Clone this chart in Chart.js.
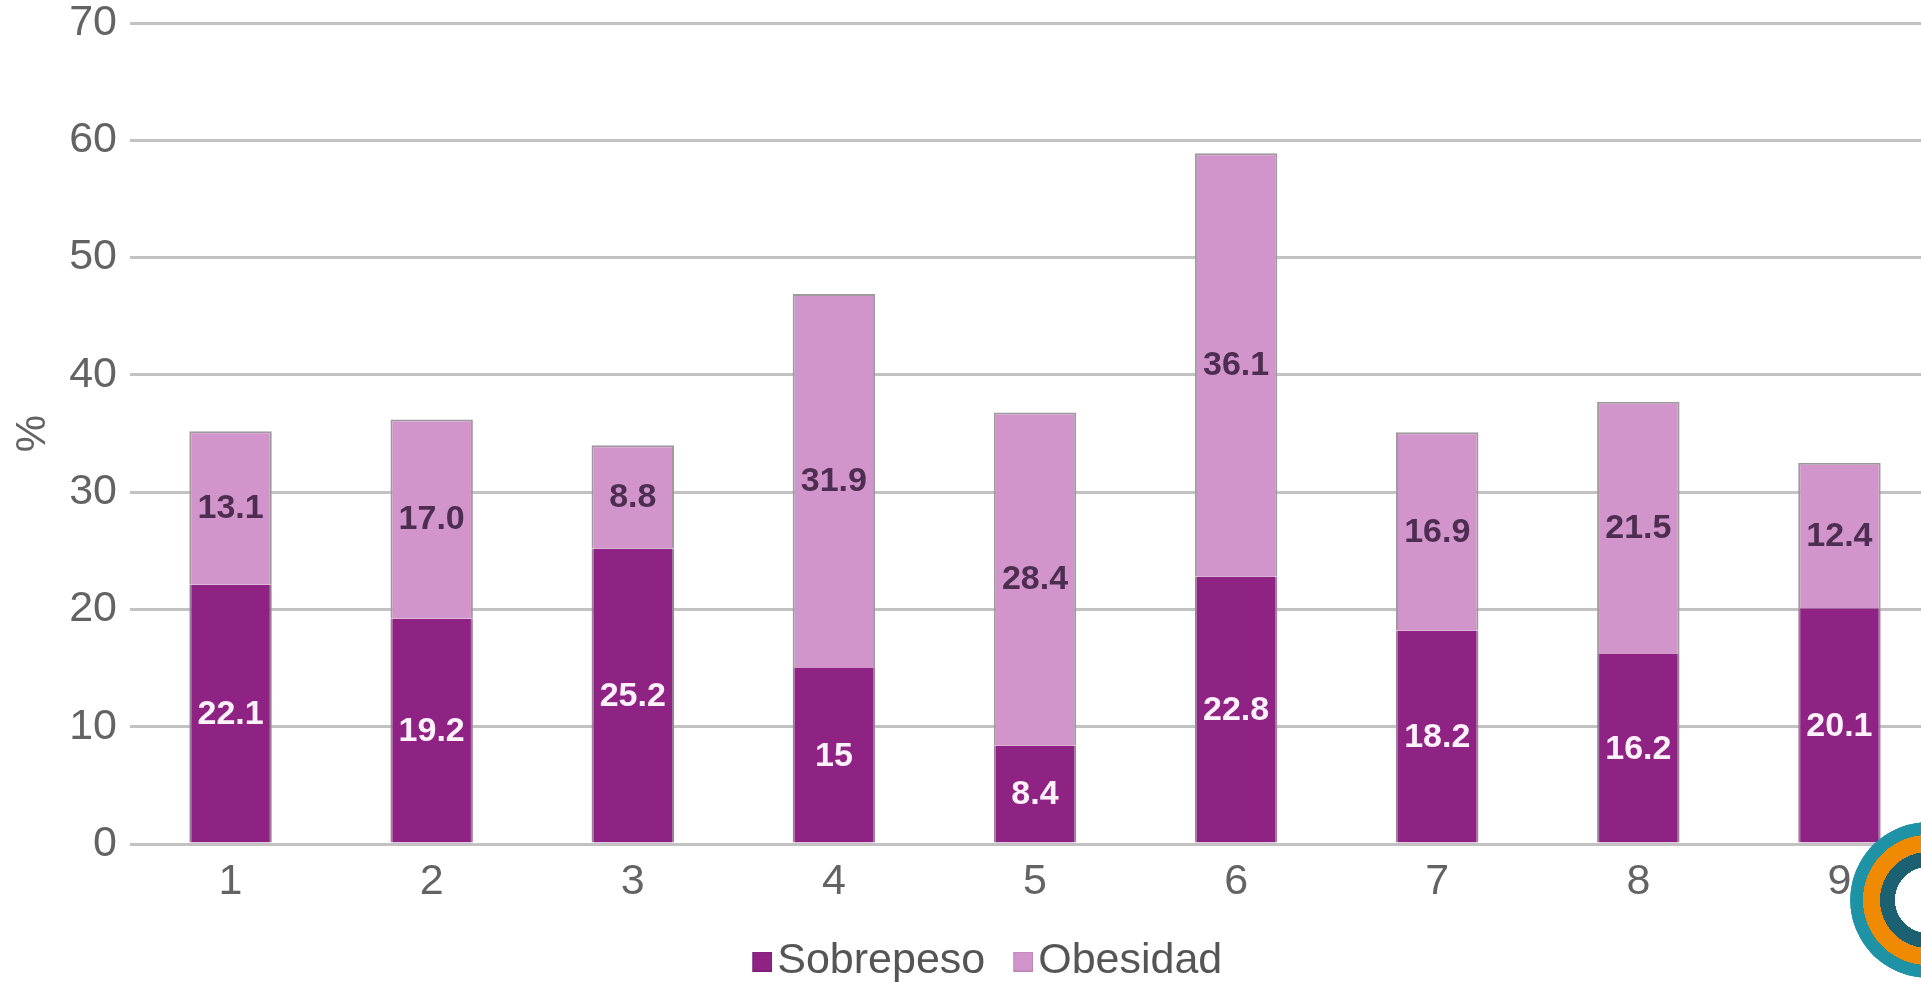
<!DOCTYPE html>
<html><head><meta charset="utf-8">
<script src="https://cdn.jsdelivr.net/npm/chart.js@4.4.1/dist/chart.umd.min.js"></script>
<style>
html,body{margin:0;padding:0;background:#fff;overflow:hidden;width:1921px;height:983px;}
#wrap{position:absolute;left:0;top:0;width:1960px;height:983px;}
#logo{position:absolute;left:1850px;top:822px;width:156px;height:156px;border-radius:50%;
background:radial-gradient(circle at center,#ffffff 0 33px,#1b6172 33px 48px,#f08a00 48px 65px,#1e93a6 65px 78px,rgba(255,255,255,0) 78px);}
</style></head><body>
<div id="wrap"><canvas id="c"></canvas></div>
<div id="logo"></div>
<script>
const categories = ['1','2','3','4','5','6','7','8','9'];
const sobrepeso = [22.1, 19.2, 25.2, 15, 8.4, 22.8, 18.2, 16.2, 20.1];
const obesidad = [13.1, 17.0, 8.8, 31.9, 28.4, 36.1, 16.9, 21.5, 12.4];
const sobrepesoLabels = ['22.1','19.2','25.2','15','8.4','22.8','18.2','16.2','20.1'];
const obesidadLabels = ['13.1','17.0','8.8','31.9','28.4','36.1','16.9','21.5','12.4'];
const seriesNames = ['Sobrepeso','Obesidad'];
const seriesColors = ['#8e2383', '#d295cb'];
const yMin = 0, yMax = 70, yStep = 10;
const yTitle = '%';

const FONT = '"Liberation Sans", Arial, sans-serif';
Chart.defaults.font.family = FONT;

// legend swatches: 20px square sitting just before the text
function swatch(color) {
  const c = document.createElement('canvas');
  c.width = 35; c.height = 20;
  const g = c.getContext('2d');
  g.fillStyle = color;
  g.fillRect(15, 0, 20, 20);
  g.strokeStyle = 'rgba(0,0,0,0.12)';
  g.lineWidth = 1;
  g.strokeRect(15.5, 0.5, 19, 19);
  return c;
}
const swatches = seriesColors.map(swatch);

const valueLabels = {
  id: 'valueLabels',
  afterDatasetsDraw(chart) {
    const ctx = chart.ctx;
    const cfg = [
      {labels: sobrepesoLabels, color: '#fdf2fb', font: 'bold 34px ' + FONT},
      {labels: obesidadLabels, color: '#4d2d52', font: 'bold 34px ' + FONT}
    ];
    ctx.save();
    ctx.textAlign = 'center';
    ctx.textBaseline = 'middle';
    chart.data.datasets.forEach((ds, i) => {
      const meta = chart.getDatasetMeta(i);
      ctx.font = cfg[i].font;
      ctx.fillStyle = cfg[i].color;
      meta.data.forEach((el, j) => {
        ctx.fillText(cfg[i].labels[j], el.x, (el.y + el.base) / 2 + 1);
      });
    });
    ctx.restore();
  }
};

const legendPlace = {
  id: 'legendPlace',
  afterLayout(chart) {
    const lg = chart.legend;
    if (!lg) return;
    const dx = 988 - (lg.left + lg.right) / 2;
    lg.left += dx; lg.right += dx;
    lg.top += 10; lg.bottom += 10;
  }
};

new Chart(document.getElementById('c'), {
  type: 'bar',
  data: {
    labels: categories,
    datasets: [
      {label: seriesNames[0], data: sobrepeso, backgroundColor: seriesColors[0], borderColor: '#9c7f99',
       borderWidth: {top: 0, left: 2, right: 2, bottom: 0}, borderSkipped: false,
       barPercentage: 0.41, categoryPercentage: 1},
      {label: seriesNames[1], data: obesidad, backgroundColor: seriesColors[1], borderColor: '#a09aa0',
       borderWidth: {top: 2, left: 2, right: 2, bottom: 0}, borderSkipped: false,
       barPercentage: 0.41, categoryPercentage: 1}
    ]
  },
  options: {
    responsive: true,
    maintainAspectRatio: false,
    animation: false,
    layout: {padding: {top: 23, right: 20, left: 0, bottom: 0}},
    plugins: {
      legend: {
        position: 'bottom',
        labels: {
          color: '#555555', font: {size: 43}, usePointStyle: true, boxWidth: 2, boxHeight: 20, padding: 29.5,
          generateLabels(chart) {
            const items = Chart.defaults.plugins.legend.labels.generateLabels(chart);
            items.forEach((it, i) => { it.pointStyle = swatches[i]; });
            return items;
          }
        }
      },
      tooltip: {enabled: false}
    },
    scales: {
      x: {
        stacked: true,
        grid: {display: false, drawTicks: false},
        border: {display: false},
        ticks: {color: '#636363', font: {size: 43, lineHeight: 1}, padding: 17},
        afterFit(s) { s.height = 56.5; }
      },
      y: {
        stacked: true,
        min: yMin, max: yMax,
        ticks: {stepSize: yStep, color: '#636363', font: {size: 43, lineHeight: 0.3}, padding: 13},
        grid: {color: '#c2c2c2', lineWidth: 3, drawTicks: false},
        border: {display: false},
        title: {display: true, text: yTitle, color: '#636363', font: {size: 42, lineHeight: 1.2}, padding: {top: 8, bottom: 0}},
        afterFit(s) { s.width = 130; }
      }
    }
  },
  plugins: [valueLabels, legendPlace]
});
</script>
</body></html>
